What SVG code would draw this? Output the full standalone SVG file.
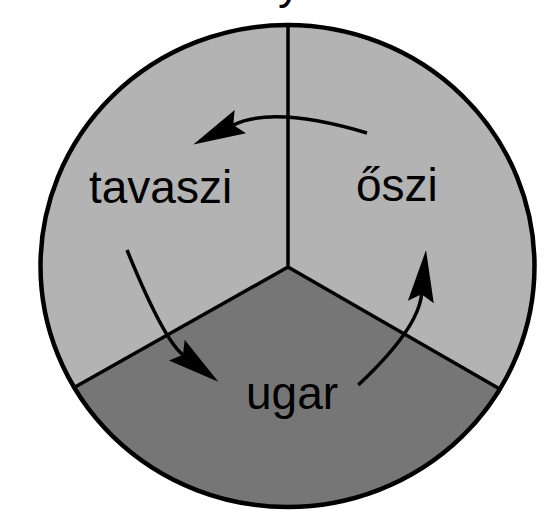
<svg xmlns="http://www.w3.org/2000/svg" width="547" height="510" viewBox="0 0 547 510">
<style>
.lbl{font-family:"Liberation Sans",Arial,sans-serif;font-size:46px;fill:#000}
.light{fill:#b3b3b3}
.dark{fill:#767676}
.spoke{stroke:#000;stroke-width:3.5;fill:none;stroke-linecap:butt}
.rim{stroke:#000;stroke-width:4.5;fill:none}
.arr{stroke:#000;stroke-width:3.5;fill:none;marker-end:url(#ah)}
</style>
<defs>
<marker id="ah" markerUnits="userSpaceOnUse" markerWidth="60" markerHeight="30" viewBox="-10 -15 60 30" refX="0" refY="0" orient="auto" overflow="visible">
<path d="M44.4,0 L-7.8,-13 L0,0 L-7.8,13 Z" fill="#000"/>
</marker>
</defs>
<rect width="547" height="510" fill="#fff"/>
<text class="lbl" x="278" y="-2">y</text>
<g id="tavaszi">
<path class="light" d="M288,267 L288,25 A247,241 0 0,0 74.2,387.5 Z"/>
<text class="lbl" x="89" y="203">tavaszi</text>
</g>
<g id="oszi">
<path class="light" d="M288,267 L288,25 A247,241 0 0,1 499.8,389.1 Z"/>
<text class="lbl" x="356" y="201">őszi</text>
</g>
<g id="ugar">
<path class="dark" d="M288,267 L74.2,387.5 A247,241 0 0,0 499.8,389.1 Z"/>
<text class="lbl" x="246" y="409">ugar</text>
</g>
<g id="frame">
<path class="spoke" d="M288,267 L288,25 M288,267 L74.2,387.5 M288,267 L499.8,389.1"/>
<ellipse class="rim" cx="287.5" cy="266" rx="247" ry="241"/>
</g>
<g id="connectors">
<path class="arr" d="M367,133 Q273.7,105.4 233.3,125"/>
<path class="arr" d="M127,250 Q163.7,340.1 183,354.8"/>
<path class="arr" d="M358.3,385 Q418.1,329.2 421.6,294.2"/>
</g>
</svg>
